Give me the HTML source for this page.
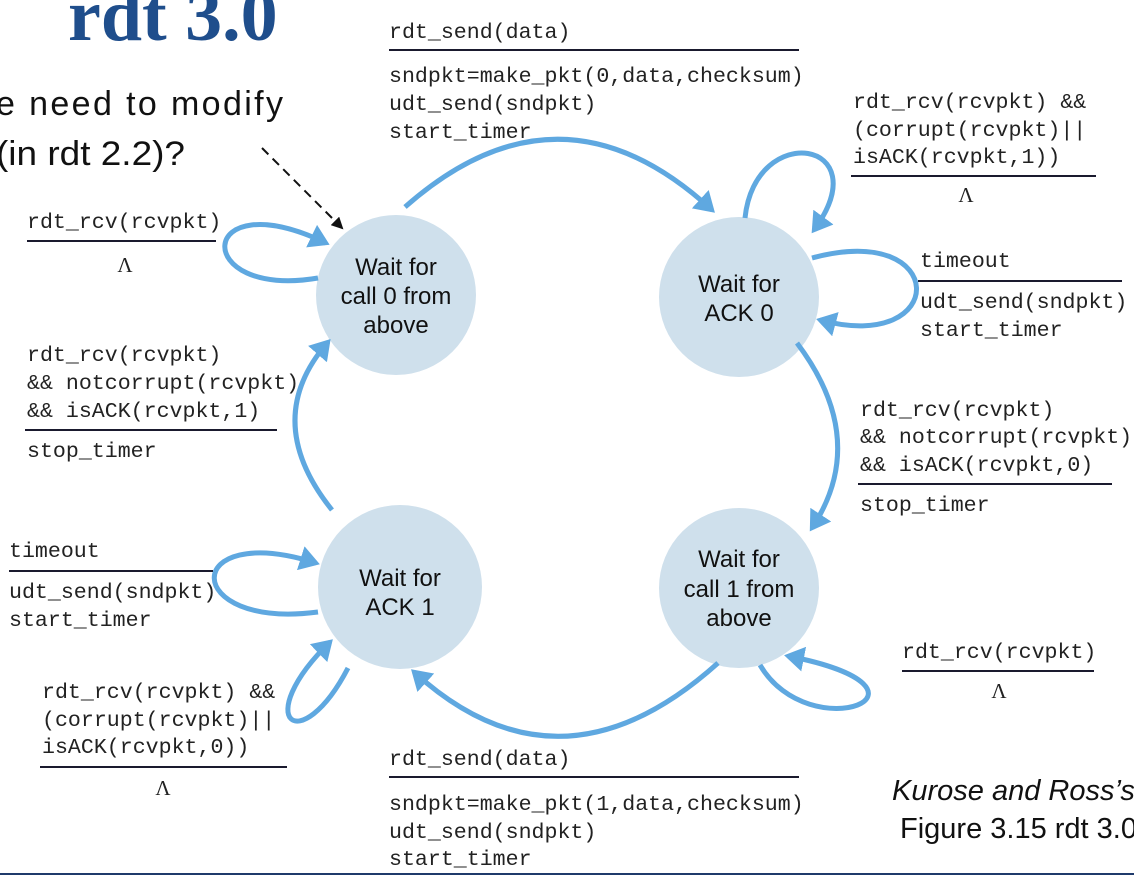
<!DOCTYPE html>
<html><head><meta charset="utf-8"><style>
html,body{margin:0;padding:0;background:#fff;}
svg{display:block}
.m{font-family:"Liberation Mono",monospace;font-size:21.6px;fill:#222;}
.s{font-family:"Liberation Sans",sans-serif;fill:#111;}
.st{font-family:"Liberation Sans",sans-serif;font-size:24px;fill:#111;text-anchor:middle}
.l{stroke:#1a1a2e;stroke-width:2}
.a{fill:none;stroke:#5fa8e0;stroke-width:5;marker-end:url(#ah)}
.L{font-family:"Liberation Serif",serif;font-size:21px;fill:#222;text-anchor:middle}
</style></head><body>
<svg width="1134" height="876" viewBox="0 0 1134 876" xmlns="http://www.w3.org/2000/svg">
<defs>
<marker id="ah" markerWidth="5" markerHeight="5" refX="3.2" refY="2.5" orient="auto" markerUnits="strokeWidth">
<path d="M0,0 L4,2.5 L0,5 z" fill="#5fa8e0"/></marker>
<marker id="bh" markerWidth="12" markerHeight="12" refX="10" refY="6" orient="auto" markerUnits="userSpaceOnUse">
<path d="M0,0 L12,6 L0,12 z" fill="#111"/></marker>
</defs>
<text x="68" y="40" font-family="Liberation Serif,serif" font-weight="bold" font-size="74" fill="#1f4e8c">rdt 3.0</text>
<text class="s" x="-4" y="115" font-size="34" textLength="287" lengthAdjust="spacing">e need to modify</text>
<text class="s" x="-4" y="165" font-size="34" textLength="189" lengthAdjust="spacingAndGlyphs">(in rdt 2.2)?</text>
<line x1="262" y1="148" x2="342" y2="228" stroke="#111" stroke-width="2" stroke-dasharray="9,6" marker-end="url(#bh)"/>

<circle cx="396" cy="295" r="80" fill="#cfe0ec"/>
<circle cx="739" cy="297" r="80" fill="#cfe0ec"/>
<circle cx="400" cy="587" r="82" fill="#cfe0ec"/>
<circle cx="739" cy="588" r="80" fill="#cfe0ec"/>
<text class="st" x="396" y="275">Wait for</text><text class="st" x="396" y="304">call 0 from</text><text class="st" x="396" y="333">above</text>
<text class="st" x="739" y="292">Wait for</text><text class="st" x="739" y="321">ACK 0</text>
<text class="st" x="400" y="586">Wait for</text><text class="st" x="400" y="615">ACK 1</text>
<text class="st" x="739" y="567">Wait for</text><text class="st" x="739" y="597">call 1 from</text><text class="st" x="739" y="626">above</text>

<path class="a" d="M405,207 Q560,70 712,210"/>
<path class="a" d="M797,343 Q870,440 812,528"/>
<path class="a" d="M718,663 Q560,805 414,672"/>
<path class="a" d="M332,510 Q260,420 328,342"/>
<path class="a" d="M318,278 C190,300 195,180 326,243"/>
<path class="a" d="M745,218 C755,120 880,140 814,230"/>
<path class="a" d="M812,258 C950,220 950,355 820,320"/>
<path class="a" d="M318,612 C180,630 180,520 316,563"/>
<path class="a" d="M348,668 C300,760 250,720 330,642"/>
<path class="a" d="M760,665 C810,750 960,690 788,656"/>

<g class="m">
<text x="389" y="38">rdt_send(data)</text>
<text x="389" y="82">sndpkt=make_pkt(0,data,checksum)</text>
<text x="389" y="110">udt_send(sndpkt)</text>
<text x="389" y="138">start_timer</text>
<text x="853" y="108">rdt_rcv(rcvpkt) &amp;&amp;</text>
<text x="853" y="136">(corrupt(rcvpkt)||</text>
<text x="853" y="163">isACK(rcvpkt,1))</text>
<text x="920" y="267">timeout</text>
<text x="920" y="308">udt_send(sndpkt)</text>
<text x="920" y="336">start_timer</text>
<text x="860" y="416">rdt_rcv(rcvpkt)</text>
<text x="860" y="443">&amp;&amp; notcorrupt(rcvpkt)</text>
<text x="860" y="471">&amp;&amp; isACK(rcvpkt,0)</text>
<text x="860" y="511">stop_timer</text>
<text x="902" y="658">rdt_rcv(rcvpkt)</text>
<text x="27" y="228">rdt_rcv(rcvpkt)</text>
<text x="27" y="361">rdt_rcv(rcvpkt)</text>
<text x="27" y="389">&amp;&amp; notcorrupt(rcvpkt)</text>
<text x="27" y="417">&amp;&amp; isACK(rcvpkt,1)</text>
<text x="27" y="457">stop_timer</text>
<text x="9" y="557">timeout</text>
<text x="9" y="598">udt_send(sndpkt)</text>
<text x="9" y="626">start_timer</text>
<text x="42" y="698">rdt_rcv(rcvpkt) &amp;&amp;</text>
<text x="42" y="726">(corrupt(rcvpkt)||</text>
<text x="42" y="753">isACK(rcvpkt,0))</text>
<text x="389" y="765">rdt_send(data)</text>
<text x="389" y="810">sndpkt=make_pkt(1,data,checksum)</text>
<text x="389" y="838">udt_send(sndpkt)</text>
<text x="389" y="865">start_timer</text>
</g>
<text class="L" x="966" y="202">Λ</text>
<text class="L" x="999" y="698">Λ</text>
<text class="L" x="125" y="272">Λ</text>
<text class="L" x="163" y="795">Λ</text>

<line class="l" x1="389" y1="50" x2="799" y2="50"/>
<line class="l" x1="851" y1="176" x2="1096" y2="176"/>
<line class="l" x1="918" y1="281" x2="1122" y2="281"/>
<line class="l" x1="858" y1="484" x2="1112" y2="484"/>
<line class="l" x1="902" y1="671" x2="1094" y2="671"/>
<line class="l" x1="27" y1="241" x2="216" y2="241"/>
<line class="l" x1="25" y1="430" x2="277" y2="430"/>
<line class="l" x1="9" y1="571" x2="213" y2="571"/>
<line class="l" x1="40" y1="767" x2="287" y2="767"/>
<line class="l" x1="389" y1="777" x2="799" y2="777"/>

<text class="s" x="892" y="800" font-size="29" font-style="italic">Kurose and Ross’s</text>
<text class="s" x="900" y="838" font-size="29">Figure 3.15 rdt 3.0</text>
<line x1="0" y1="874" x2="1134" y2="874" stroke="#1f3a6b" stroke-width="2"/>
</svg>
</body></html>
